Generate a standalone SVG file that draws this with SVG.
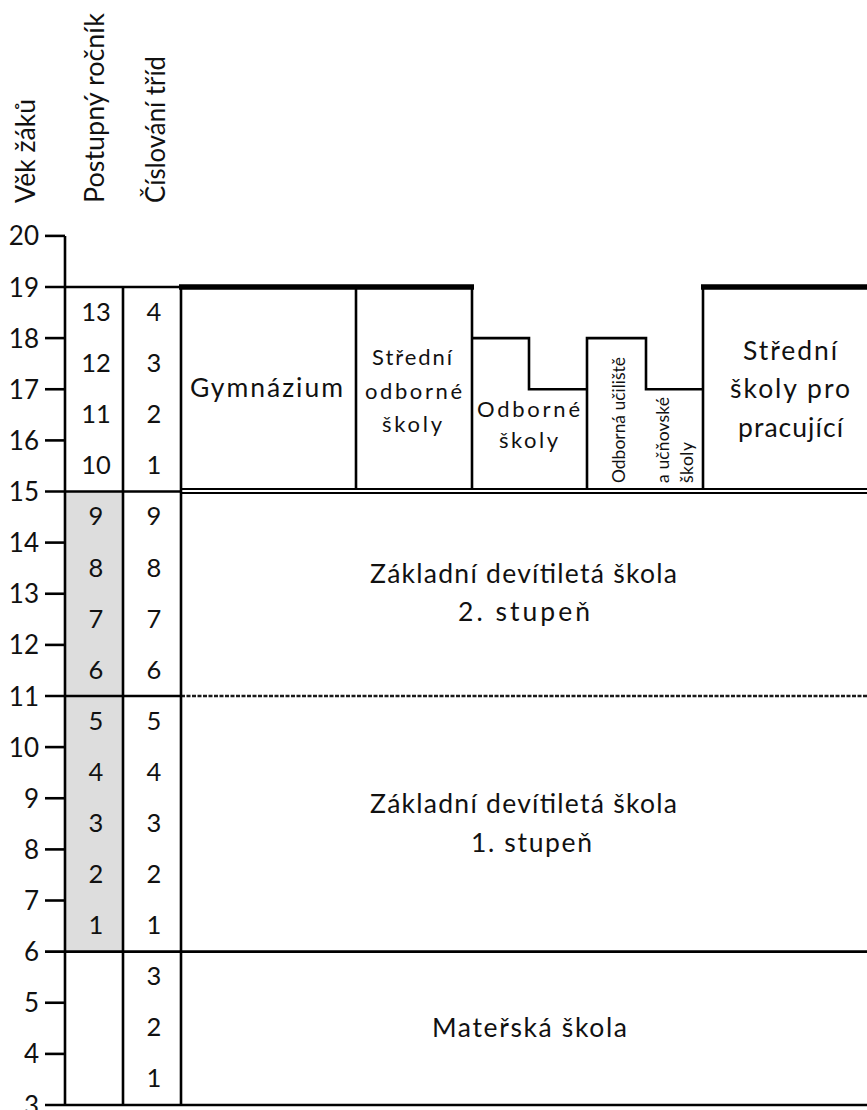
<svg xmlns="http://www.w3.org/2000/svg" width="867" height="1110" viewBox="0 0 867 1110">
  <style>
    text { font-family: Lato, "Liberation Sans", sans-serif; fill: #111; }
    .lbl { font-size: 26px; text-anchor: end; }
    .num { font-size: 25.5px; text-anchor: middle; }
    .hdr { font-size: 27px; }
    .big { font-size: 26.5px; }
    .mid { font-size: 22px; }
    .sm { font-size: 17.5px; }
    .ln { stroke: #000; stroke-width: 2.6; fill: none; }
    .thk { stroke: #000; stroke-width: 5.5; fill: none; }
    .dbl { stroke: #000; stroke-width: 1.9; fill: none; }
    .dsh { stroke: #1a1a1a; stroke-width: 2.6; stroke-dasharray: 4 1.5; fill: none; }
  </style>

  <!-- column headings -->
  <g id="headers">
    <text class="hdr" transform="translate(35,203) rotate(-90)" textLength="104" lengthAdjust="spacingAndGlyphs">Věk žáků</text>
    <text class="hdr" transform="translate(104,203) rotate(-90)" textLength="190" lengthAdjust="spacingAndGlyphs">Postupný ročník</text>
    <text class="hdr" transform="translate(165,203) rotate(-90)" textLength="147" lengthAdjust="spacingAndGlyphs">Číslování tříd</text>
  </g>

  <!-- shaded grades of compulsory school -->
  <rect id="compulsory-shade" x="65" y="491.5" width="58" height="460.1" fill="#dddddd"/>

  <!-- age axis -->
  <g id="age-axis">
    <line class="ln" x1="65" y1="235.9" x2="65" y2="1106"/>
    <line class="ln" x1="45" y1="235.9" x2="65" y2="235.9"/>
    <line class="ln" x1="45" y1="338.1" x2="65" y2="338.1"/>
    <line class="ln" x1="45" y1="389.25" x2="65" y2="389.25"/>
    <line class="ln" x1="45" y1="440.4" x2="65" y2="440.4"/>
    <line class="ln" x1="45" y1="542.6" x2="65" y2="542.6"/>
    <line class="ln" x1="45" y1="593.75" x2="65" y2="593.75"/>
    <line class="ln" x1="45" y1="644.9" x2="65" y2="644.9"/>
    <line class="ln" x1="45" y1="747.1" x2="65" y2="747.1"/>
    <line class="ln" x1="45" y1="798.25" x2="65" y2="798.25"/>
    <line class="ln" x1="45" y1="849.4" x2="65" y2="849.4"/>
    <line class="ln" x1="45" y1="900.5" x2="65" y2="900.5"/>
    <line class="ln" x1="45" y1="1002.75" x2="65" y2="1002.75"/>
    <line class="ln" x1="45" y1="1053.9" x2="65" y2="1053.9"/>
    <text class="lbl" x="39" y="245.4">20</text>
    <text class="lbl" x="39" y="296.5">19</text>
    <text class="lbl" x="39" y="347.6">18</text>
    <text class="lbl" x="39" y="398.75">17</text>
    <text class="lbl" x="39" y="449.9">16</text>
    <text class="lbl" x="39" y="501">15</text>
    <text class="lbl" x="39" y="552.1">14</text>
    <text class="lbl" x="39" y="603.25">13</text>
    <text class="lbl" x="39" y="654.4">12</text>
    <text class="lbl" x="39" y="705.5">11</text>
    <text class="lbl" x="39" y="756.6">10</text>
    <text class="lbl" x="39" y="807.75">9</text>
    <text class="lbl" x="39" y="858.9">8</text>
    <text class="lbl" x="39" y="910">7</text>
    <text class="lbl" x="39" y="961.1">6</text>
    <text class="lbl" x="39" y="1012.25">5</text>
    <text class="lbl" x="39" y="1063.4">4</text>
    <text class="lbl" x="39" y="1114.5">3</text>
  </g>

  <!-- level boundaries -->
  <g id="connectors">
    <line class="ln" x1="45" y1="287" x2="181" y2="287"/>
    <line class="ln" x1="45" y1="491.5" x2="181" y2="491.5"/>
    <line class="dbl" x1="181" y1="489" x2="867" y2="489"/>
    <line class="dbl" x1="181" y1="493" x2="867" y2="493"/>
    <line class="ln" x1="45" y1="696" x2="181" y2="696"/>
    <line class="dsh" x1="181" y1="696" x2="867" y2="696"/>
    <line class="ln" x1="45" y1="951.6" x2="867" y2="951.6"/>
    <line class="ln" x1="45" y1="1105" x2="867" y2="1105"/>
    <line class="ln" x1="123" y1="287" x2="123" y2="1106"/>
    <line class="ln" x1="181" y1="287" x2="181" y2="1106"/>
  </g>

  <!-- progressive grade -->
  <g id="grade-column">
    <text class="num" x="96" y="321">13</text>
    <text class="num" x="96" y="372">12</text>
    <text class="num" x="96" y="423">11</text>
    <text class="num" x="96" y="474">10</text>
    <text class="num" x="96" y="525">9</text>
    <text class="num" x="96" y="576.5">8</text>
    <text class="num" x="96" y="627.5">7</text>
    <text class="num" x="96" y="678.5">6</text>
    <text class="num" x="96" y="729.5">5</text>
    <text class="num" x="96" y="780.5">4</text>
    <text class="num" x="96" y="831.5">3</text>
    <text class="num" x="96" y="882.5">2</text>
    <text class="num" x="96" y="933.5">1</text>
  </g>

  <!-- class numbering -->
  <g id="class-column">
    <text class="num" x="154" y="321">4</text>
    <text class="num" x="154" y="372">3</text>
    <text class="num" x="154" y="423">2</text>
    <text class="num" x="154" y="474">1</text>
    <text class="num" x="154" y="525">9</text>
    <text class="num" x="154" y="576.5">8</text>
    <text class="num" x="154" y="627.5">7</text>
    <text class="num" x="154" y="678.5">6</text>
    <text class="num" x="154" y="729.5">5</text>
    <text class="num" x="154" y="780.5">4</text>
    <text class="num" x="154" y="831.5">3</text>
    <text class="num" x="154" y="882.5">2</text>
    <text class="num" x="154" y="933.5">1</text>
    <text class="num" x="154" y="985">3</text>
    <text class="num" x="154" y="1036">2</text>
    <text class="num" x="154" y="1087">1</text>
  </g>

  <g id="gymnazium">
    <line class="thk" x1="179" y1="287" x2="356" y2="287"/>
    <text class="big" x="190" y="397" textLength="153" lengthAdjust="spacing">Gymnázium</text>
  </g>

  <g id="stredni-odborne-skoly">
    <line class="thk" x1="356" y1="287" x2="474" y2="287"/>
    <line class="ln" x1="356" y1="287" x2="356" y2="489"/>
    <line class="ln" x1="472" y1="287" x2="472" y2="489"/>
    <text class="mid" x="372" y="365" textLength="80" lengthAdjust="spacing">Střední</text>
    <text class="mid" x="365" y="399" textLength="97" lengthAdjust="spacing">odborné</text>
    <text class="mid" x="382" y="432" textLength="60" lengthAdjust="spacing">školy</text>
  </g>

  <g id="odborne-skoly">
    <polyline class="ln" points="472,338.1 529,338.1 529,389.25 587,389.25"/>
    <text class="mid" x="477" y="417" textLength="103" lengthAdjust="spacing">Odborné</text>
    <text class="mid" x="499" y="448" textLength="59" lengthAdjust="spacing">školy</text>
  </g>

  <g id="odborna-uciliste">
    <polyline class="ln" points="587,489 587,338.1 646,338.1 646,389.25 703,389.25"/>
    <text class="sm" transform="translate(625,483) rotate(-90)" textLength="126" lengthAdjust="spacing">Odborná učiliště</text>
    <text class="sm" transform="translate(669,483) rotate(-90)" textLength="86" lengthAdjust="spacing">a učňovské</text>
    <text class="sm" transform="translate(693,483) rotate(-90)" textLength="41" lengthAdjust="spacing">školy</text>
  </g>

  <g id="stredni-skoly-pro-pracujici">
    <line class="thk" x1="701" y1="287" x2="867" y2="287"/>
    <line class="ln" x1="703" y1="287" x2="703" y2="489"/>
    <text class="big" x="743" y="360" textLength="94" lengthAdjust="spacing">Střední</text>
    <text class="big" x="730" y="398" textLength="120" lengthAdjust="spacing">školy pro</text>
    <text class="big" x="738" y="437" textLength="105" lengthAdjust="spacing">pracující</text>
  </g>

  <g id="zakladni-2-stupen">
    <text class="big" x="370" y="583" textLength="307" lengthAdjust="spacing">Základní devítiletá škola</text>
    <text class="big" x="458" y="621" textLength="132" lengthAdjust="spacing">2. stupeň</text>
  </g>

  <g id="zakladni-1-stupen">
    <text class="big" x="370" y="813" textLength="307" lengthAdjust="spacing">Základní devítiletá škola</text>
    <text class="big" x="471" y="852" textLength="121" lengthAdjust="spacing">1. stupeň</text>
  </g>

  <g id="materska-skola">
    <text class="big" x="432" y="1037" textLength="195" lengthAdjust="spacing">Mateřská škola</text>
  </g>
</svg>
